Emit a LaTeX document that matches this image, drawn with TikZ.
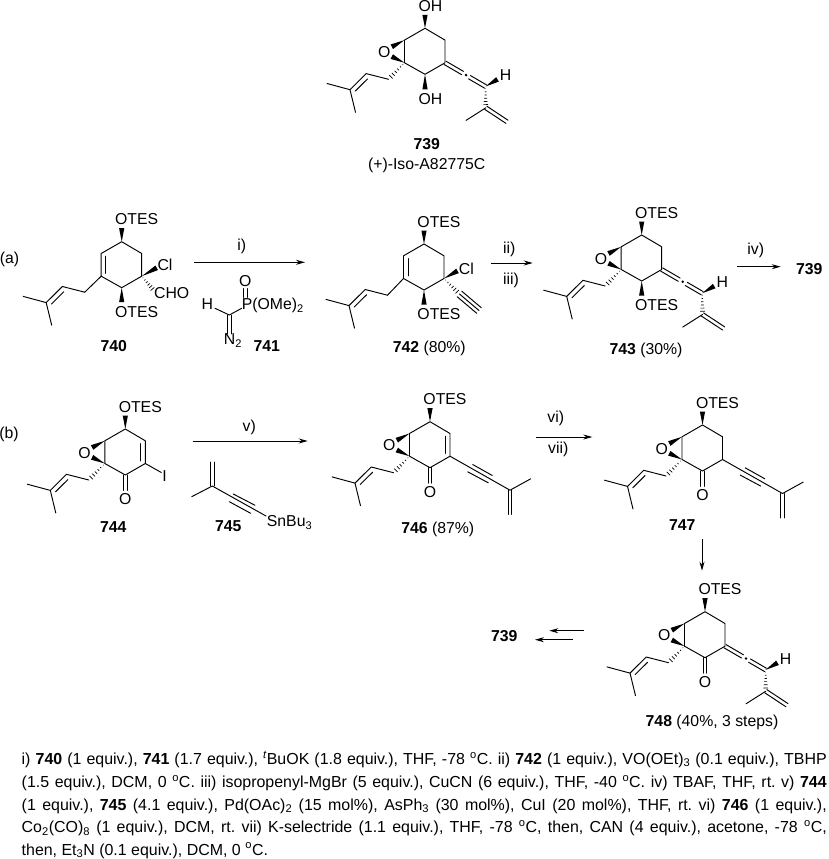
\documentclass[tikz,border=0pt]{standalone}
\usepackage{fontspec}
\setmainfont{Liberation Sans}
\usetikzlibrary{calc,arrows.meta}
\tikzset{
  bond/.style={line width=0.95pt,line cap=round,line join=round},
  chem/.style={inner sep=0pt,text height=11.2pt,text depth=0pt,font=\fontsize{15.8}{18}\selectfont},
  cpd/.style={chem,font=\fontsize{15.8}{18}\selectfont\bfseries},
  cond/.style={inner sep=0pt,anchor=base west,font=\fontsize{15.95}{18}\selectfont\frenchspacing},
  rxn/.style={line width=0.95pt,-{Stealth[length=9pt,width=5pt]}},
}
% shared drawing helpers
\newcommand\wdg[2]{\fill ($(#1)$) -- ($(#2)!2.6pt!90:(#1)$) -- ($(#2)!2.6pt!-90:(#1)$) -- cycle;}
\newcommand\hsh[2]{\foreach \t in {0.1,0.25,0.4,0.55,0.7,0.85,1.0}{\draw[line width=0.7pt] ($(#1)!\t!(#2)!{\t*2.8pt}!90:(#2)$) -- ($(#1)!\t!(#2)!{\t*2.8pt}!-90:(#2)$);}}
\newcommand\innerdbl[2]{\path ($(#1)!.12!(#2)$) coordinate (ta) ($(#1)!.88!(#2)$) coordinate (tb);
  \draw[bond] ($(ta)!4.7pt!90:(tb)$) -- ($(tb)!4.7pt!-90:(ta)$);}
\newcommand\dblbond[2]{\draw[bond] ($(#1)!1.9pt!90:(#2)$) -- ($(#2)!1.9pt!-90:(#1)$) ($(#1)!1.9pt!-90:(#2)$) -- ($(#2)!1.9pt!90:(#1)$);}
\newcommand\chemring[3]{\coordinate (#1c1) at (#2,#3);
  \coordinate (#1c2) at ($(#1c1)+(20,11.8)$);
  \coordinate (#1c3) at ($(#1c1)+(20,34.5)$);
  \coordinate (#1c4) at ($(#1c1)+(0,46)$);
  \coordinate (#1c5) at ($(#1c1)+(-20.5,34.5)$);
  \coordinate (#1c6) at ($(#1c1)+(-20.5,11.8)$);
  \draw[bond] (#1c1) -- (#1c2) -- (#1c3) -- (#1c4) -- (#1c5) -- (#1c6) -- cycle;}
\newcommand\prenyl[1]{\coordinate (#1p1) at ($(#1ch)+(-22.3,-5.7)$);
  \coordinate (#1p2) at ($(#1ch)+(-38.5,10.4)$);
  \coordinate (#1p3) at ($(#1ch)+(-61.5,4.2)$);
  \coordinate (#1p4) at ($(#1ch)+(-33,33)$);
  \draw[bond] (#1ch) -- (#1p1) -- (#1p2) -- (#1p3) (#1p2) -- (#1p4);
  \innerdbl{#1p1}{#1p2}}
\newcommand\epoxide[1]{\node[chem] (#1O) at ($(#1c1)+(-40.7,23.5)$) {O};
  \coordinate (#1ea) at ($(#1c6)+(-12.7,6.7)$);
  \coordinate (#1eb) at ($(#1c5)+(-12.7,-6.2)$);
  \wdg{#1c6}{#1ea}\wdg{#1c5}{#1eb}
  \coordinate (#1ch) at ($(#1c5)+(-16,16.5)$);
  \hsh{#1c5}{#1ch}\prenyl{#1}}
\newcommand\otestop[1]{\node[chem] (#1ot) at ($(#1c1)+(15,-22.4)$) {OTES};
  \coordinate (#1w) at ($(#1c1)+(0,-13.5)$);\wdg{#1c1}{#1w}}
\newcommand\ketone[1]{\node[chem] (#1ko) at ($(#1c4)+(0,24.3)$) {O};
  \coordinate (#1kb) at ($(#1c4)+(0,15.5)$);\dblbond{#1c4}{#1kb}}
\newcommand\allene[1]{\coordinate (#1a1) at ($(#1c3)+(17.5,10.2)$);
  \coordinate (#1a2) at ($(#1c3)+(24.5,14.4)$);
  \coordinate (#1a3) at ($(#1c3)+(40.5,23.7)$);
  \coordinate (#1hw) at ($(#1c3)+(52.5,16.6)$);
  \coordinate (#1a4) at ($(#1c3)+(40.8,45)$);
  \coordinate (#1a5) at ($(#1c3)+(21,57.6)$);
  \coordinate (#1a6) at ($(#1c3)+(62,59)$);
  \dblbond{#1c3}{#1a1}\dblbond{#1a2}{#1a3}
  \fill ($(#1c3)+(21,12.3)$) circle (1.4pt);
  \wdg{#1a3}{#1hw}
  \node[chem] (#1H) at ($(#1c3)+(60.5,12.3)$) {H};
  \hsh{#1a3}{#1a4}
  \draw[bond] (#1a4) -- (#1a5);
  \dblbond{#1a4}{#1a6}}
\newcommand\alkyne[1]{\coordinate (#1y1) at ($(#1c3)+(60,34)$);
  \coordinate (#1y2) at ($(#1c3)+(80.7,22.6)$);
  \coordinate (#1y3) at ($(#1c3)+(60,58.3)$);
  \draw[bond] (#1c3) -- (#1y1) -- (#1y2);
  \draw[bond] ($(#1c3)+(22.7,8.3)$) -- ($(#1c3)+(42.3,19.3)$);
  \draw[bond] ($(#1c3)+(17.7,15.6)$) -- ($(#1c3)+(38.3,26.6)$);
  \dblbond{#1y1}{#1y3}}
\newcommand\condline[1]{\makebox[805pt][s]{#1}}
\begin{document}
\begin{tikzpicture}[x=1pt,y=-1pt]
\useasboundingbox (0,0) rectangle (829,859);
% ---- 739
\chemring{A}{425}{28.3}
\epoxide{A}
\node[chem] (Atop) at ($(Ac1)+(5.5,-22.4)$) {OH};
\coordinate (Aw) at ($(Ac1)+(0,-13.5)$);\wdg{Ac1}{Aw}
\node[chem] (Abot) at ($(Ac4)+(5.5,24.3)$) {OH};
\coordinate (Awb) at ($(Ac4)+(0,15)$);\wdg{Ac4}{Awb}
\allene{A}
\node[cpd] (l739) at (426.7,144) {739};
\node[chem] (n739) at (426.7,164) {(+)-Iso-A82775C};
% ---- (a) 740
\node[chem] (pa) at (9.5,258.3) {(a)};
\chemring{B}{121.7}{241.7}
\innerdbl{Bc6}{Bc5}
\otestop{B}
\node[chem] (Bob) at ($(Bc4)+(15,24.3)$) {OTES};
\coordinate (Bwb) at ($(Bc4)+(0,14.5)$);\wdg{Bc4}{Bwb}
\coordinate (Bch) at ($(Bc5)+(-16.5,16)$);
\draw[bond] (Bc5) -- (Bch);
\prenyl{B}
\node[chem] (BCl) at ($(Bc3)+(23.3,-11)$) {Cl};
\coordinate (Bwc) at ($(Bc3)+(15,-8.4)$);\wdg{Bc3}{Bwc}
\node[chem] (BCHO) at ($(Bc3)+(30,16.6)$) {CHO};
\coordinate (Bhc) at ($(Bc3)+(12.7,15)$);\hsh{Bc3}{Bhc}
\node[cpd] (l740) at (113.7,345.7) {740};
% arrow i
\node[chem] (ri) at (241.7,245) {i)};
\coordinate (ra1) at (194.3,262.3);\coordinate (ra2) at (305,262.3);
\draw[rxn] (ra1) -- (ra2);
% 741
\node[chem] (rO) at (245.3,280.7) {O};
\node[chem,anchor=west] (rP) at (241.7,304) {P(OMe)\textsubscript{2}};
\node[chem] (rH) at (207.3,304) {H};
\node[chem] (rN) at (233,339.3) {N\textsubscript{2}};
\coordinate (rc) at (229.3,315);
\coordinate (rb1) at (215,308.3);\coordinate (rb2) at (241.7,308.3);
\coordinate (rb3) at (229.3,334);
\coordinate (rb4) at (245.5,288.5);\coordinate (rb5) at (245.5,297.5);
\draw[bond] (rb1) -- (rc) -- (rb2);
\dblbond{rc}{rb3}\dblbond{rb4}{rb5}
\node[cpd] (l741) at (266.7,345.7) {741};
% ---- 742
\chemring{C}{424}{244}
\innerdbl{Cc6}{Cc5}
\otestop{C}
\node[chem] (Cob) at ($(Cc4)+(15,24.3)$) {OTES};
\coordinate (Cwb) at ($(Cc4)+(0,14.5)$);\wdg{Cc4}{Cwb}
\coordinate (Cch) at ($(Cc5)+(-16,16.7)$);
\draw[bond] (Cc5) -- (Cch);
\prenyl{C}
\node[chem] (CCl) at ($(Cc3)+(22.3,-10)$) {Cl};
\coordinate (Cwc) at ($(Cc3)+(13.5,-7.6)$);\wdg{Cc3}{Cwc}
\coordinate (Chc) at ($(Cc3)+(15.5,15.5)$);\hsh{Cc3}{Chc}
\coordinate (Ct) at ($(Cc3)+(35,32)$);
\path ($(Chc)!3.6pt!90:(Ct)$) coordinate (Ct1) ($(Ct)!3.6pt!-90:(Chc)$) coordinate (Ct2)
      ($(Chc)!3.6pt!-90:(Ct)$) coordinate (Ct3) ($(Ct)!3.6pt!90:(Chc)$) coordinate (Ct4);
\draw[bond] (Chc) -- (Ct) (Ct1) -- (Ct2) (Ct3) -- (Ct4);
\node[chem] (l742) at (429.3,346.7) {\bfseries 742\mdseries{} (80\%)};
% arrow ii iii
\node[chem] (rii) at (509.3,248.3) {ii)};
\node[chem] (riii) at (511,279.3) {iii)};
\coordinate (rb6) at (490.7,263);\coordinate (rb7) at (532.7,263);
\draw[rxn] (rb6) -- (rb7);
% ---- 743
\chemring{D}{641.7}{235}
\epoxide{D}
\otestop{D}
\node[chem] (Dob) at ($(Dc4)+(15,24.3)$) {OTES};
\coordinate (Dwb) at ($(Dc4)+(0,14.5)$);\wdg{Dc4}{Dwb}
\allene{D}
\node[chem] (l743) at (646,349.3) {\bfseries 743\mdseries{} (30\%)};
\node[chem] (riv) at (755.7,249.3) {iv)};
\coordinate (rc1) at (737.3,266.7);\coordinate (rc2) at (780.7,266.7);
\draw[rxn] (rc1) -- (rc2);
\node[cpd] (l739b) at (809.3,269) {739};
% ---- (b) 744
\node[chem] (pb) at (9,432.7) {(b)};
\chemring{E}{125.3}{429}
\innerdbl{Ec3}{Ec2}
\epoxide{E}
\otestop{E}
\ketone{E}
\coordinate (Ei) at ($(Ec3)+(16,9)$);\draw[bond] (Ec3) -- (Ei);
\node[chem] (EI) at ($(Ec3)+(19.3,12.7)$) {I};
\node[cpd] (l744) at (113.3,527.3) {744};
% arrow v
\node[chem] (rv) at (249.3,425.7) {v)};
\coordinate (rd1) at (192.7,441);\coordinate (rd2) at (307.7,441);
\draw[rxn] (rd1) -- (rd2);
% 745
\coordinate (Fc) at (212.3,486);
\coordinate (Fm) at (191.7,496.7);
\coordinate (Fd) at (212.3,462);
\coordinate (Fs) at (266,516);
\draw[bond] (Fm) -- (Fc) -- (Fs);
\dblbond{Fc}{Fd}
\coordinate (Ft1) at (233.3,494);\coordinate (Ft2) at (255,505.3);
\coordinate (Ft3) at (229.3,501.7);\coordinate (Ft4) at (250.7,513.3);
\draw[bond] (Ft1) -- (Ft2) (Ft3) -- (Ft4);
\node[chem,anchor=west] (FSn) at (266.7,521) {SnBu\textsubscript{3}};
\node[cpd] (l745) at (228.3,525.7) {745};
% ---- 746
\chemring{G}{430}{421.7}
\innerdbl{Gc3}{Gc2}
\epoxide{G}
\otestop{G}
\ketone{G}
\alkyne{G}
\node[chem] (l746) at (437.7,527.7) {\bfseries 746\mdseries{} (87\%)};
% arrow vi vii
\node[chem] (rvi) at (555.7,417.3) {vi)};
\node[chem] (rvii) at (558.3,447.7) {vii)};
\coordinate (re1) at (535.7,437);\coordinate (re2) at (592.3,437);
\draw[rxn] (re1) -- (re2);
% ---- 747
\chemring{H}{702.5}{425}
\epoxide{H}
\otestop{H}
\ketone{H}
\alkyne{H}
\node[cpd] (l747) at (682.3,525) {747};
\coordinate (rf1) at (702,539);\coordinate (rf2) at (702,570.7);
\draw[rxn] (rf1) -- (rf2);
% ---- 748
\chemring{J}{705}{611.7}
\epoxide{J}
\otestop{J}
\ketone{J}
\allene{J}
\node[chem] (l748) at (712,721) {\bfseries 748\mdseries{} (40\%, 3 steps)};
\node[cpd] (l739c) at (504.3,636) {739};
\coordinate (rg1) at (584.3,630.7);\coordinate (rg2) at (549.3,630.7);
\coordinate (rg3) at (572.7,639.7);\coordinate (rg4) at (535,639.7);
\draw[rxn] (rg1) -- (rg2);
\draw[rxn] (rg3) -- (rg4);
% ---- conditions
\node[cond] (f1) at (21.5,764.3) {\condline{i) \textbf{740} (1 equiv.), \textbf{741} (1.7 equiv.), \textsuperscript{\itshape t}BuOK (1.8 equiv.), THF, -78 \textsuperscript{o}C. ii) \textbf{742} (1 equiv.), VO(OEt)\textsubscript{3} (0.1 equiv.), TBHP}};
\node[cond] (f2) at (21.5,787.3) {\condline{(1.5 equiv.), DCM, 0 \textsuperscript{o}C. iii) isopropenyl-MgBr (5 equiv.), CuCN (6 equiv.), THF, -40 \textsuperscript{o}C. iv) TBAF, THF, rt. v) \textbf{744}}};
\node[cond] (f3) at (21.5,810) {\condline{(1 equiv.), \textbf{745} (4.1 equiv.), Pd(OAc)\textsubscript{2} (15 mol\%), AsPh\textsubscript{3} (30 mol\%), CuI (20 mol\%), THF, rt. vi) \textbf{746} (1 equiv.),}};
\node[cond] (f4) at (21.5,832.7) {\condline{Co\textsubscript{2}(CO)\textsubscript{8} (1 equiv.), DCM, rt. vii) K-selectride (1.1 equiv.), THF, -78 \textsuperscript{o}C, then, CAN (4 equiv.), acetone, -78 \textsuperscript{o}C,}};
\node[cond] (f5) at (21.5,855) {then, Et\textsubscript{3}N (0.1 equiv.), DCM, 0 \textsuperscript{o}C.};
\end{tikzpicture}
\end{document}
